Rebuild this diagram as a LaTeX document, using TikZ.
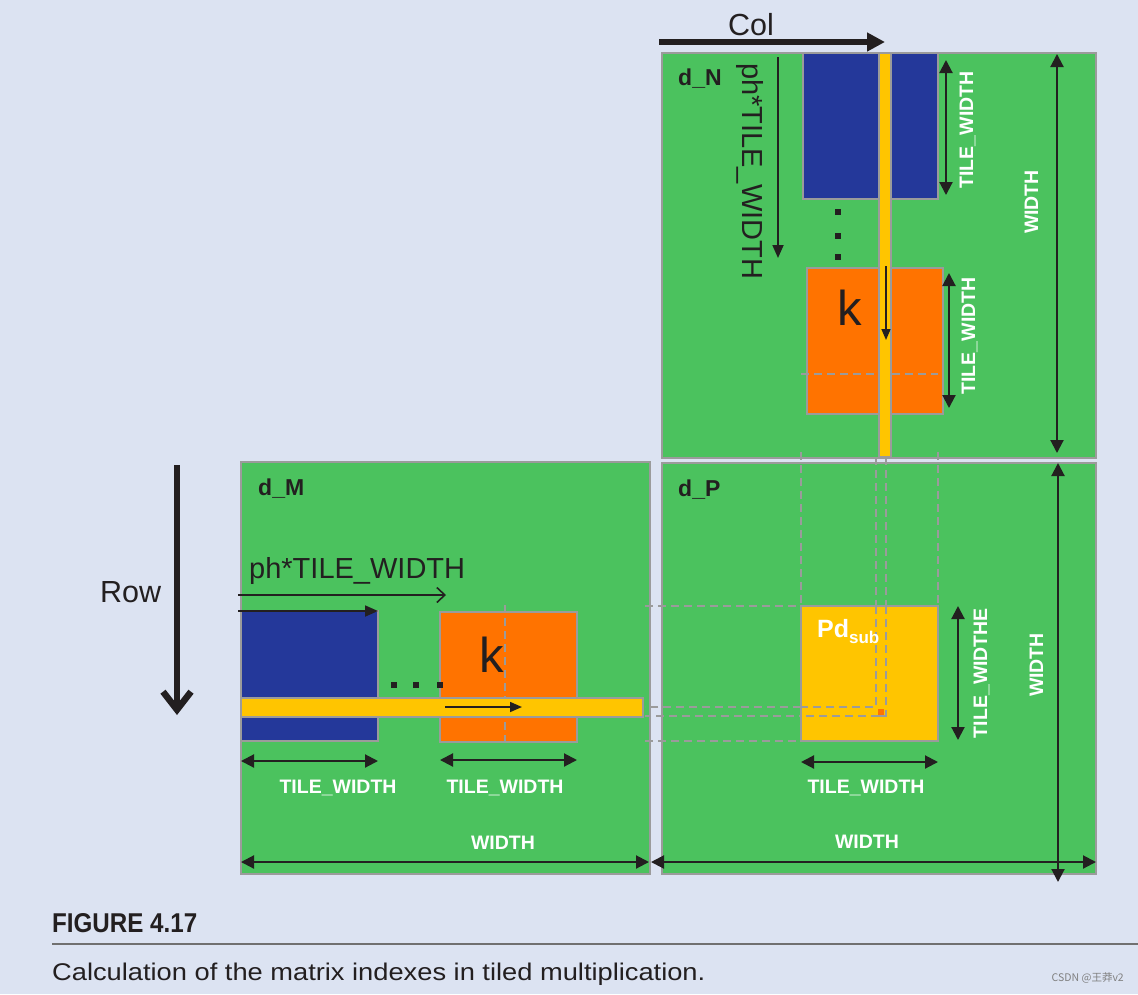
\documentclass[tikz,border=0pt]{standalone}
\usepackage{fontspec}
\setmainfont{Liberation Sans}
\newfontfamily\cjkfont{Noto Sans CJK SC}
\usetikzlibrary{arrows.meta}
\definecolor{bg}{HTML}{DCE3F2}
\definecolor{matgreen}{HTML}{4BC25E}
\definecolor{tileblue}{HTML}{24389A}
\definecolor{tileorange}{HTML}{FF7300}
\definecolor{tileyellow}{HTML}{FFC500}
\definecolor{edgegray}{HTML}{9B9B9B}
\definecolor{ink}{HTML}{231F20}
\definecolor{capgray}{HTML}{707070}
\begin{document}
\begin{tikzpicture}[x=1pt,y=-1pt,
  matbox/.style={fill=matgreen,draw=edgegray,line width=2.5pt},
  bluebox/.style={fill=tileblue,draw=edgegray,line width=2pt},
  orangebox/.style={fill=tileorange,draw=edgegray,line width=2pt},
  yellowbox/.style={fill=tileyellow,draw=edgegray,line width=2pt},
  guide/.style={draw=edgegray,line width=2.3pt,dash pattern=on 8pt off 5pt},
  dimarrow/.style={draw=ink,line width=2.1pt,{Triangle[length=13pt,width=13pt]}-{Triangle[length=13pt,width=13pt]}},
  fwdarrow/.style={draw=ink,line width=1.8pt,-{Triangle[length=13pt,width=11pt]}},
  wlabel/.style={text=white,font=\fontsize{19.5}{20}\selectfont\bfseries,inner sep=0pt,anchor=base},
  mlabel/.style={text=ink,font=\fontsize{23}{24}\selectfont\bfseries,inner sep=0pt,anchor=base west},
  biglabel/.style={text=ink,font=\fontsize{30.5}{31}\selectfont,inner sep=0pt},
  klabel/.style={text=ink,font=\fontsize{49}{49}\selectfont,inner sep=0pt,anchor=base},
  dotsq/.style={fill=ink,minimum size=6.5pt,inner sep=0pt}
]
\useasboundingbox[fill=bg] (0,0) rectangle (1138,994);

% matrices
\draw[matbox] (662,53) rectangle (1096,458);
\draw[matbox] (241,462) rectangle (650,874);
\draw[matbox] (662,463) rectangle (1096,874);

% guide lines in d_P
\draw[guide] (801,452) -- (801,606);
\draw[guide] (938,452) -- (938,606);
\draw[guide] (876,457) -- (876,707) -- (645,707);
\draw[guide] (886,457) -- (886,716) -- (645,716);
\draw[guide] (645,606) -- (801,606);
\draw[guide] (645,741) -- (801,741);

% tiles of d_N
\draw[bluebox] (803,53) rectangle (938,199);
\draw[orangebox] (807,268) rectangle (943,414);
\draw[guide] (801,374) -- (938,374);
% tiles of d_M
\draw[bluebox] (241,611) rectangle (378,741);
\draw[orangebox] (440,612) rectangle (577,742);
\draw[guide] (505,605) -- (505,742);
% tile of d_P
\draw[yellowbox] (801,606) rectangle (938,741);
\draw[guide] (876,606) -- (876,707) -- (801,707);
\draw[guide] (886,606) -- (886,716) -- (801,716);
\draw[guide] (876,716) -- (886,716);
\fill[tileorange] (878,709) rectangle (884,715);

% strips
\draw[yellowbox] (879,53) rectangle (891,457);
\draw[yellowbox] (241,698) rectangle (643,717);

% Col / Row arrows
\draw[ink,line width=5.5pt,-{Triangle[length=18pt,width=18pt]}] (659,42) -- (885,42);
\node[biglabel,anchor=base] (col) at (751,35) {Col};
\draw[ink,line width=6.5pt,-{Straight Barb[length=18pt,width=28pt]}] (177,465) -- (177,715);
\node[biglabel,anchor=base west] (row) at (100,602) {Row};

% d_N annotations
\node[mlabel] (dN) at (678,85) {d\_N};
\node[biglabel,anchor=base west,rotate=-90,font=\fontsize{29}{29}\selectfont] (phN) at (742,63) {ph*TILE\_WIDTH};
\draw[fwdarrow] (778,57) -- (778,258);
\node[dotsq] (dN1) at (838,212) {};
\node[dotsq] (dN2) at (838,236) {};
\node[dotsq] (dN3) at (838,257) {};
\node[klabel] (kN) at (850,325) {k};
\draw[draw=ink,line width=1.6pt,-{Triangle[length=11pt,width=9pt]}] (886,266) -- (886,340);
\draw[dimarrow] (946,60) -- (946,195);
\node[wlabel,rotate=90] (twN1) at (973,130) {TILE\_WIDTH};
\draw[dimarrow] (949,273) -- (949,408);
\node[wlabel,rotate=90] (twN2) at (975,336) {TILE\_WIDTH};
\draw[dimarrow] (1057,54) -- (1057,453);
\node[wlabel,rotate=90] (wN) at (1038,202) {WIDTH};

% d_M annotations
\node[mlabel] (dM) at (258,495) {d\_M};
\node[biglabel,anchor=base west,font=\fontsize{29}{29}\selectfont] (phM) at (249,578) {ph*TILE\_WIDTH};
\draw[draw=ink,line width=1.6pt,-{Straight Barb[length=8pt,width=15pt]}] (238,595) -- (446,595);
\draw[fwdarrow] (238,611) -- (378,611);
\node[dotsq] (dM1) at (394,685) {};
\node[dotsq] (dM2) at (416,685) {};
\node[dotsq] (dM3) at (440,685) {};
\node[klabel] (kM) at (492,672) {k};
\draw[draw=ink,line width=1.6pt,-{Triangle[length=12pt,width=10pt]}] (445,707) -- (522,707);
\draw[dimarrow] (241,761) -- (378,761);
\node[wlabel] (twM1) at (338,793) {TILE\_WIDTH};
\draw[dimarrow] (440,760) -- (577,760);
\node[wlabel] (twM2) at (505,793) {TILE\_WIDTH};
\draw[dimarrow] (241,862) -- (649,862);
\node[wlabel] (wM) at (503,849) {WIDTH};

% d_P annotations
\node[mlabel] (dP) at (678,496) {d\_P};
\node[text=white,inner sep=0pt,anchor=base west] (pd) at (817,637)
  {\fontsize{25}{25}\selectfont\bfseries Pd\raisebox{-6pt}{\fontsize{17}{17}\selectfont sub}};
\draw[dimarrow] (958,606) -- (958,740);
\node[wlabel,rotate=90] (twP1) at (987,673) {TILE\_WIDTHE};
\draw[dimarrow] (801,762) -- (938,762);
\node[wlabel] (twP2) at (866,793) {TILE\_WIDTH};
\draw[dimarrow] (651,862) -- (1096,862);
\node[wlabel] (wPh) at (867,848) {WIDTH};
\draw[dimarrow] (1058,463) -- (1058,882);
\node[wlabel,rotate=90] (wPv) at (1043,665) {WIDTH};

% caption
\node[anchor=base west,inner sep=0pt,text=ink] (fig) at (52,932)
  {\resizebox{145pt}{19pt}{\bfseries FIGURE 4.17}};
\draw[capgray,line width=1.5pt] (52,944) -- (1138,944);
\node[anchor=base west,inner sep=0pt,text=ink] (cap) at (52,980)
  {\resizebox{653pt}{17.5pt}{Calculation of the matrix indexes in tiled multiplication.}};
\node[anchor=base east,inner sep=0pt,text=gray] (wm) at (1124,981)
  {\fontsize{10.5}{11}\selectfont\cjkfont CSDN @王莽v2};
\end{tikzpicture}
\end{document}
